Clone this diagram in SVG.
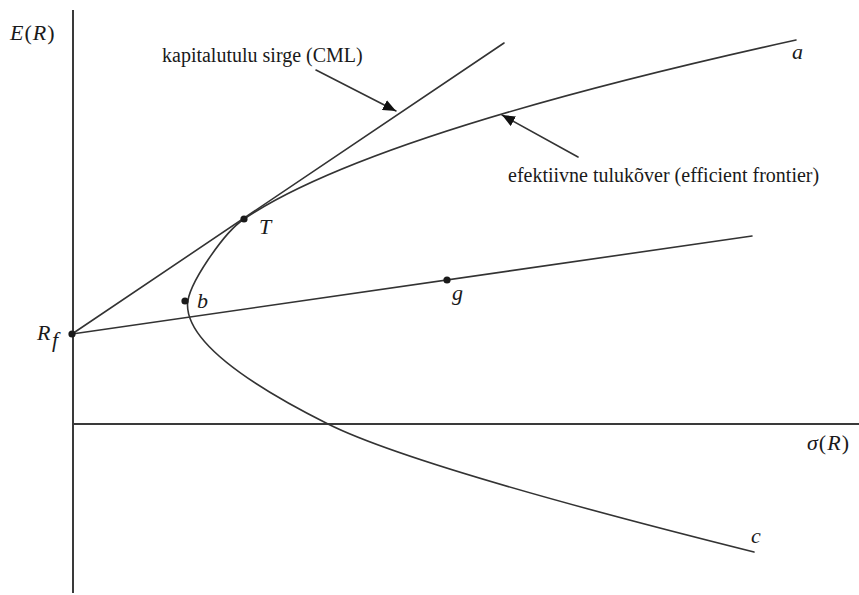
<svg xmlns="http://www.w3.org/2000/svg" width="859" height="595" viewBox="0 0 859 595">
  <defs>
    <style>
      .ln { fill: none; stroke: #333; stroke-width: 1.6; stroke-linecap: round; }
      .ax { fill: none; stroke: #3a3a3a; stroke-width: 2; }
      .dot { fill: #1a1a1a; }
      .lbl { font-family: "Liberation Serif", "Times New Roman", serif; fill: #1a1a1a; font-size: 20px; }
      .m { font-family: "Liberation Serif", "Times New Roman", serif; fill: #1a1a1a; font-style: italic; font-size: 22px; }
      .up { font-style: normal; }
    </style>
    <marker id="ah" markerUnits="userSpaceOnUse" markerWidth="13" markerHeight="11" refX="13" refY="5.5" orient="auto">
      <path d="M0,0 L13,5.5 L0,11 z" fill="#111"/>
    </marker>
  </defs>
  <rect width="859" height="595" fill="#fff"/>

  <g id="axes">
    <line class="ax" x1="73" y1="10" x2="73" y2="593"/>
    <line class="ax" x1="73" y1="424" x2="859" y2="424"/>
    <text class="m" x="10" y="40" font-size="24" letter-spacing="1">E<tspan class="up">(</tspan>R<tspan class="up">)</tspan></text>
    <text class="m" x="807" y="450" font-size="24" letter-spacing="1">σ<tspan class="up">(</tspan>R<tspan class="up">)</tspan></text>
  </g>

  <g id="curves">
    <path id="frontier" class="ln" d="M796,40 Q371,133.5 244,219 C224,232.5 187.5,285 187.5,305 Q187.5,353.75 328,424 Q414,467 754,552"/>
    <line id="cml" class="ln" x1="72" y1="334" x2="504" y2="43"/>
    <line id="rf-g" class="ln" x1="72" y1="334" x2="752" y2="236"/>
    <text class="m" x="792" y="59">a</text>
    <text class="m" x="751" y="543">c</text>
  </g>

  <g id="node-Rf">
    <circle class="dot" cx="72" cy="334" r="3.6"/>
    <text class="m" x="37" y="340" font-size="23">R</text>
    <text class="m" x="52" y="347" font-size="14">f</text>
  </g>
  <g id="node-T">
    <circle class="dot" cx="244" cy="219" r="3.6"/>
    <text class="m" x="259" y="234" font-size="21">T</text>
  </g>
  <g id="node-b">
    <circle class="dot" cx="185" cy="301" r="3.6"/>
    <text class="m" x="197" y="308">b</text>
  </g>
  <g id="node-g">
    <circle class="dot" cx="447" cy="280" r="3.6"/>
    <text class="m" x="452" y="300">g</text>
  </g>

  <g id="label-cml">
    <text class="lbl" x="162" y="62">kapitalutulu sirge (CML)</text>
  </g>
  <g id="label-frontier">
    <text class="lbl" x="508" y="182">efektiivne tulukõver (efficient frontier)</text>
  </g>

  <g id="connectors">
    <line class="ln" x1="316" y1="70" x2="396" y2="111" marker-end="url(#ah)"/>
    <line class="ln" x1="578" y1="157" x2="502" y2="115" marker-end="url(#ah)"/>
  </g>
</svg>
